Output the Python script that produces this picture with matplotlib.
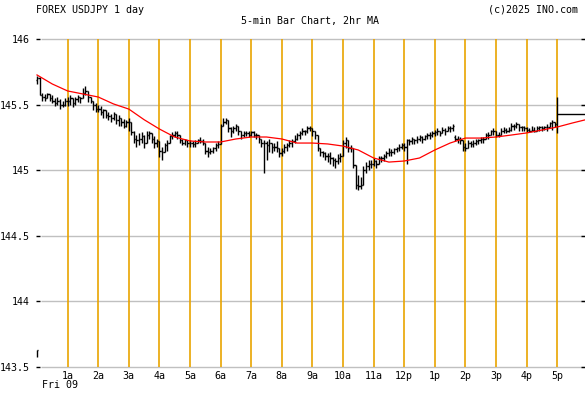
#!/usr/bin/env python3
"""FOREX USDJPY 1 day - 5-min OHLC bars with 2hr moving average."""
import numpy as np
import matplotlib
import matplotlib.pyplot as plt

matplotlib.use("Agg")
matplotlib.rcParams["font.family"] = "DejaVu Sans Mono"

# prices are stored as pips above BASE (price = BASE + pips / 100)
BASE = 145.00
BAR_MINUTES = 5

OPEN = [
    69, 70, 57, 56, 55, 58, 55, 53, 51, 53, 50, 50,
    53, 53, 55, 51, 54, 56, 55, 59, 60, 56, 53, 50,
    47, 47, 44, 46, 42, 41, 40, 43, 38, 40, 37, 34,
    37, 37, 29, 24, 23, 24, 26, 21, 27, 28, 24, 21,
    22, 15, 14, 19, 21, 26, 27, 28, 27, 23, 21, 23,
    21, 21, 20, 21, 23, 22, 21, 15, 14, 15, 17, 19,
    20, 34, 37, 38, 32, 30, 32, 34, 30, 27, 28, 28,
    27, 29, 27, 27, 24, 21, 21, 19, 21, 18, 18, 17,
    13, 15, 18, 19, 21, 22, 24, 27, 28, 30, 30, 32,
    32, 30, 27, 17, 14, 13, 11, 11, 9, 8, 7, 9,
    11, 21, 23, 17, 17, 4, -11, -12, -11, 0, 3, 5,
    5, 7, 5, 9, 9, 11, 13, 14, 14, 16, 17, 18,
    19, 18, 23, 22, 24, 23, 24, 25, 24, 26, 27, 27,
    28, 29, 30, 28, 31, 30, 32, 32, 25, 24, 24, 23,
    18, 17, 21, 20, 21, 22, 23, 24, 24, 27, 27, 30,
    30, 27, 27, 30, 31, 30, 31, 34, 34, 35, 33, 33,
    32, 31, 30, 31, 30, 32, 33, 32, 33, 33, 36, 37,
    35,
]
HIGH = [
    72, 71, 59, 58, 59, 58, 57, 55, 56, 54, 53, 55,
    56, 57, 55, 56, 57, 56, 63, 64, 60, 56, 53, 51,
    50, 49, 47, 46, 44, 43, 44, 43, 42, 40, 39, 38,
    40, 37, 30, 27, 28, 29, 27, 30, 30, 28, 26, 24,
    22, 18, 21, 23, 27, 29, 30, 30, 27, 24, 24, 23,
    23, 22, 23, 24, 25, 24, 21, 18, 17, 18, 21, 22,
    35, 40, 40, 38, 33, 34, 35, 34, 30, 30, 30, 30,
    30, 30, 28, 27, 24, 23, 22, 24, 21, 21, 22, 17,
    17, 20, 21, 23, 24, 27, 28, 30, 32, 31, 34, 34,
    32, 30, 27, 17, 15, 14, 13, 14, 10, 9, 12, 13,
    23, 25, 23, 19, 17, 4, -4, -5, 3, 6, 8, 8,
    9, 8, 11, 11, 12, 15, 17, 16, 17, 18, 20, 21,
    21, 24, 24, 25, 24, 26, 27, 26, 27, 28, 29, 30,
    31, 32, 30, 33, 32, 34, 34, 35, 27, 26, 25, 23,
    21, 23, 22, 23, 24, 24, 25, 25, 28, 29, 31, 32,
    30, 29, 32, 33, 32, 33, 36, 35, 37, 35, 34, 34,
    33, 32, 34, 33, 34, 34, 34, 34, 35, 37, 38, 37,
    56,
]
LOW = [
    66, 57, 53, 53, 55, 53, 51, 49, 50, 47, 48, 49,
    49, 50, 48, 50, 52, 51, 55, 57, 52, 51, 46, 44,
    44, 42, 40, 40, 38, 37, 38, 35, 34, 34, 32, 33,
    30, 27, 21, 18, 19, 21, 17, 21, 24, 21, 17, 18,
    10, 8, 14, 15, 21, 24, 25, 24, 21, 19, 19, 18,
    18, 18, 18, 21, 21, 19, 12, 10, 12, 13, 15, 17,
    20, 34, 35, 29, 25, 28, 30, 27, 24, 25, 26, 25,
    26, 25, 24, 21, 18, -2, 8, 14, 13, 15, 14, 10,
    11, 13, 15, 18, 18, 21, 23, 24, 27, 27, 28, 30,
    26, 24, 15, 11, 10, 8, 6, 5, 3, 2, 5, 6,
    11, 17, 14, 14, 2, -14, -15, -14, -11, -2, 0, 2,
    3, 2, 5, 6, 7, 9, 11, 11, 12, 14, 15, 16,
    15, 5, 19, 20, 20, 21, 22, 21, 23, 24, 24, 25,
    26, 27, 26, 28, 27, 30, 29, 30, 22, 21, 20, 15,
    15, 17, 18, 18, 19, 20, 21, 21, 24, 24, 27, 27,
    25, 25, 27, 28, 28, 29, 30, 31, 32, 30, 30, 30,
    29, 29, 30, 29, 30, 30, 30, 31, 30, 33, 31, 33,
    28,
]
CLOSE = [
    70, 57, 56, 55, 58, 55, 53, 51, 53, 50, 50, 53,
    53, 55, 51, 54, 56, 55, 59, 60, 56, 53, 50, 47,
    47, 44, 46, 42, 41, 40, 43, 38, 40, 37, 34, 37,
    37, 29, 24, 23, 24, 26, 21, 27, 28, 24, 21, 22,
    15, 14, 19, 21, 26, 27, 28, 27, 23, 21, 23, 21,
    21, 20, 21, 23, 22, 21, 15, 14, 15, 17, 19, 20,
    34, 37, 38, 32, 30, 32, 34, 30, 27, 28, 28, 27,
    29, 27, 27, 24, 21, 21, 19, 21, 18, 18, 17, 13,
    15, 18, 19, 21, 22, 24, 27, 28, 30, 30, 32, 32,
    30, 27, 17, 14, 13, 11, 11, 9, 8, 7, 9, 11,
    21, 23, 17, 17, 4, -11, -12, -11, 0, 3, 5, 5,
    7, 5, 9, 9, 11, 13, 14, 14, 16, 17, 18, 19,
    18, 23, 22, 24, 23, 24, 25, 24, 26, 27, 27, 28,
    29, 30, 28, 31, 30, 32, 32, 34, 24, 24, 23, 18,
    17, 21, 20, 21, 22, 23, 24, 24, 27, 27, 30, 30,
    27, 27, 30, 31, 30, 31, 34, 34, 35, 33, 33, 32,
    31, 30, 31, 30, 32, 33, 32, 33, 33, 36, 37, 35,
    43,
]

# 2hr moving average, read every half hour
MA_HOURS = [0, 0.5, 1, 1.5, 2, 2.5, 3, 3.5, 4, 4.5, 5, 5.5, 6, 6.5, 7, 7.5,
            8, 8.5, 9, 9.5, 10, 10.5, 11, 11.5, 12, 12.5, 13, 13.5, 14, 14.5,
            15, 15.5, 16, 16.5, 17, 17.5, 17.9]
MA_PIPS = [72.6, 65.7, 60.4, 58.1, 55.8, 50.5, 46.6, 38.5, 31.4, 25.3, 22.3,
           21.5, 21.5, 23.8, 25.3, 25.3, 23.8, 20.7, 20.7, 20.0, 18.4, 15.4,
           9.3, 6.2, 7.0, 9.3, 15.4, 20.7, 24.5, 24.5, 25.3, 26.8, 28.4, 30.6,
           32.9, 36.0, 38.3]

# small stub bar at lower left
STUB_HIGH = 143.63
STUB_LOW = 143.58

Y_TICKS = [143.5, 144.0, 144.5, 145.0, 145.5, 146.0]
Y_LABELS = ["143.5", "144", "144.5", "145", "145.5", "146"]
HOUR_TICKS = list(range(1, 18))
HOUR_LABELS = ["1a", "2a", "3a", "4a", "5a", "6a", "7a", "8a", "9a", "10a",
               "11a", "12p", "1p", "2p", "3p", "4p", "5p"]

W, H = 585, 394
PX_PER_HOUR = 30.6
ORANGE = "#E9A400"
GRID = "#C0C0C0"
FS = 7.2

o = BASE + np.array(OPEN) / 100
hi = BASE + np.array(HIGH) / 100
lo = BASE + np.array(LOW) / 100
c = BASE + np.array(CLOSE) / 100
t = np.arange(len(CLOSE)) * BAR_MINUTES / 60
ma = BASE + np.array(MA_PIPS) / 100

fig = plt.figure(figsize=(W / 100, H / 100), dpi=100)
ax = fig.add_axes([36 / W, 1 - 367 / H, (W - 36) / W, (367 - 39) / H])
xmin, xmax = -1 / PX_PER_HOUR, (W - 37) / PX_PER_HOUR
ax.set_xlim(xmin, xmax)
ax.set_ylim(143.5, 146.0)
for s in ax.spines.values():
    s.set_visible(False)

# grid and hour lines
ax.hlines(Y_TICKS, 4 / PX_PER_HOUR, xmax, color=GRID, lw=1.0, zorder=1, clip_on=False)
ax.vlines(HOUR_TICKS, 143.5, 146.0, color=ORANGE, lw=1.2, zorder=2, clip_on=False)

# OHLC bars
tk = 0.045
ax.vlines(t, lo, hi, color="black", lw=1.0, zorder=3)
ax.hlines(o, t - tk, t, color="black", lw=1.0, zorder=3)
ax.hlines(c[:-1], t[:-1], t[:-1] + tk, color="black", lw=1.0, zorder=3)
ax.hlines(c[-1], t[-1], xmax, color="black", lw=1.0, zorder=3, clip_on=False)
ax.vlines(0, STUB_LOW, STUB_HIGH, color="black", lw=1.0, zorder=3)
ax.hlines(STUB_HIGH, 0, tk, color="black", lw=1.0, zorder=3)

# moving average
ax.plot(MA_HOURS, ma, color="#FF0000", lw=0.9, zorder=4)

ax.set_yticks(Y_TICKS)
ax.set_yticklabels(Y_LABELS)
ax.set_xticks(HOUR_TICKS)
ax.set_xticklabels(HOUR_LABELS)
ax.tick_params(axis="y", direction="in", length=3, width=1, color="black",
               left=True, right=True, pad=4.5, labelsize=FS)
ax.tick_params(axis="x", length=0, pad=3, labelsize=FS)

fig.text(36 / W, 1 - 10 / H, "FOREX USDJPY 1 day", ha="left", va="center", fontsize=FS)
fig.text(310 / W, 1 - 21 / H, "5-min Bar Chart, 2hr MA", ha="center", va="center", fontsize=FS)
fig.text(578 / W, 1 - 10 / H, "(c)2025 INO.com", ha="right", va="center", fontsize=FS)
fig.text(42 / W, 1 - 385 / H, "Fri 09", ha="left", va="center", fontsize=FS)

fig.savefig("out.png", dpi=100, facecolor="white")
plt.close(fig)
